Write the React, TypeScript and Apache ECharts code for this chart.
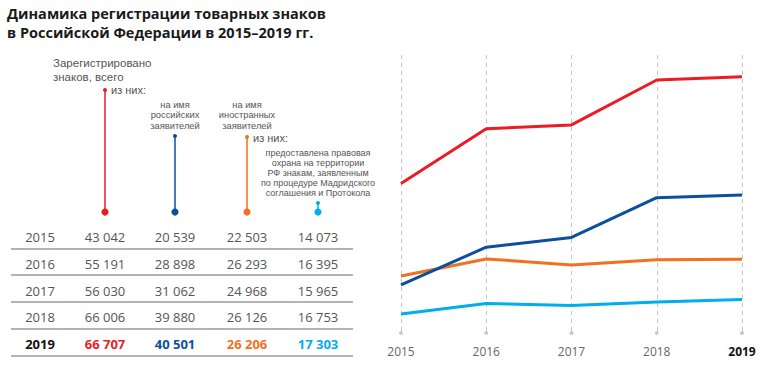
import React, { useEffect, useRef } from "react";
import * as echarts from "echarts";

const years = ["2015", "2016", "2017", "2018", "2019"];
const totalMarks = [43042, 55191, 56030, 66006, 66707];
const russianApplicants = [20539, 28898, 31062, 39880, 40501];
const foreignApplicants = [22503, 26293, 24968, 26126, 26206];
const madridMarks = [14073, 16395, 15965, 16753, 17303];

const totalCaption = ["Зарегистрировано", "знаков, всего"];
const russianCaption = ["на имя", "российских", "заявителей"];
const foreignCaption = ["на имя", "иностранных", "заявителей"];
const madridCaption = [
  "предоставлена правовая",
  "охрана на территории",
  "РФ знакам, заявленным",
  "по процедуре Мадридского",
  "соглашения и Протокола",
];

const RED = "#ec1c24";
const BLUE = "#0b4f9f";
const ORANGE = "#f37021";
const CYAN = "#00aeef";
const GREY_TEXT = "#555555";
const FONT = "'Open Sans', 'Noto Sans', sans-serif";
const CAPTION_FONT = "'Liberation Sans', Arial, sans-serif";

const Y_MIN = 9850;
const Y_MAX = 71550;

const fmt = (v: number) => {
  const s = String(v);
  return s.length > 3 ? s.slice(0, s.length - 3) + " " + s.slice(s.length - 3) : s;
};

function txt(x: number, y: number, text: string, opts: any = {}) {
  return {
    type: "text",
    x,
    y,
    silent: true,
    style: {
      text,
      fill: opts.fill || GREY_TEXT,
      fontSize: opts.fontSize || 11,
      fontFamily: opts.fontFamily || FONT,
      fontWeight: opts.fontWeight || "normal",
      align: opts.align || "left",
      verticalAlign: opts.verticalAlign || "middle",
      lineHeight: opts.lineHeight || 12,
    },
  };
}

function lines(x: number, y0: number, step: number, arr: string[], opts: any) {
  return arr.map((s, i) => txt(x, y0 + i * step, s, { fontFamily: CAPTION_FONT, ...opts }));
}

function circle(cx: number, cy: number, r: number, fill: string) {
  return { type: "circle", silent: true, shape: { cx, cy, r }, style: { fill } };
}

function vline(x: number, y1: number, y2: number, stroke: string) {
  return {
    type: "line",
    silent: true,
    shape: { x1: x, y1, x2: x, y2 },
    style: { stroke, lineWidth: 1.5 },
  };
}

export default function App() {
  const ref = useRef<HTMLDivElement>(null);

  useEffect(() => {
    if (!ref.current) return;
    const chart = echarts.init(ref.current, undefined, { renderer: "svg" });

    const colX = [40, 105, 175, 247, 318];
    const rowY = [237, 264, 291, 317, 344];
    const lineY = [249, 275, 302, 329, 356];
    const colColors = [RED, BLUE, ORANGE, CYAN];
    const cols = [totalMarks, russianApplicants, foreignApplicants, madridMarks];

    const graphics: any[] = [];
    // title
    graphics.push(
      txt(7, 4, "Динамика регистрации товарных знаков\nв Российской Федерации в 2015–2019 гг.", {
        fill: "#1a1a1a",
        fontSize: 14.5,
        fontWeight: "bold",
        verticalAlign: "top",
        lineHeight: 19,
      })
    );
    // header annotations
    graphics.push(...lines(53, 63, 13.5, totalCaption, { fontSize: 11.5 }));
    graphics.push(txt(111, 90, "из них:", { fontSize: 11, fontFamily: CAPTION_FONT }));
    graphics.push(...lines(175, 104.5, 10.6, russianCaption, { fontSize: 9.3, align: "center" }));
    graphics.push(...lines(247, 104.5, 10.6, foreignCaption, { fontSize: 9.3, align: "center" }));
    graphics.push(txt(253, 138, "из них:", { fontSize: 11, fontFamily: CAPTION_FONT }));
    graphics.push(...lines(318, 152.5, 10.2, madridCaption, { fontSize: 9, align: "center" }));
    // connector lines and dots
    const topY = [90, 136, 137, 203];
    for (let i = 0; i < 4; i++) {
      graphics.push(vline(colX[i + 1], topY[i], 212, colColors[i]));
      graphics.push(circle(colX[i + 1], topY[i], 2, colColors[i]));
      graphics.push(circle(colX[i + 1], 212, 3.6, colColors[i]));
    }
    // table
    for (let r = 0; r < years.length; r++) {
      const last = r === years.length - 1;
      graphics.push(
        txt(colX[0], rowY[r], years[r], {
          fontSize: 13,
          align: "center",
          fill: last ? "#111111" : GREY_TEXT,
          fontWeight: last ? "bold" : "normal",
        })
      );
      for (let c = 0; c < cols.length; c++) {
        graphics.push(
          txt(colX[c + 1], rowY[r], fmt(cols[c][r]), {
            fontSize: 13,
            align: "center",
            fill: last ? colColors[c] : GREY_TEXT,
            fontWeight: last ? "bold" : "normal",
          })
        );
      }
      graphics.push({
        type: "line",
        silent: true,
        shape: { x1: 11, y1: lineY[r], x2: 353, y2: lineY[r] },
        style: { stroke: "#9a9a9a", lineWidth: 1.3 },
      });
    }

    const lineSeries = (name: string, data: number[], color: string, z: number) => ({
      name,
      type: "line",
      data,
      showSymbol: false,
      symbol: "none",
      z,
      lineStyle: { color, width: 3 },
      itemStyle: { color },
    });

    chart.setOption({
      animation: false,
      backgroundColor: "#ffffff",
      grid: { left: 401, right: 29, top: 55, bottom: 49 },
      xAxis: {
        type: "category",
        data: years,
        boundaryGap: false,
        axisLine: { show: false },
        axisTick: { show: false },
        axisLabel: {
          margin: 12,
          fontSize: 12,
          color: "#666666",
          fontFamily: FONT,
          formatter: (v: string) => (v === years[years.length - 1] ? "{b|" + v + "}" : v),
          rich: {
            b: { fontWeight: "bold", color: "#111111", fontSize: 12, fontFamily: FONT },
          },
        },
        splitLine: {
          show: true,
          lineStyle: { color: "#c4c4c4", width: 1, type: [4, 4] },
        },
      },
      yAxis: {
        type: "value",
        show: false,
        min: Y_MIN,
        max: Y_MAX,
        splitLine: { show: false },
      },
      graphic: graphics,
      series: [
        lineSeries("madrid", madridMarks, CYAN, 2),
        lineSeries("foreign", foreignApplicants, ORANGE, 3),
        lineSeries("russian", russianApplicants, BLUE, 4),
        lineSeries("total", totalMarks, RED, 5),
        {
          type: "scatter",
          data: years.map((y) => [y, Y_MIN]),
          symbolSize: 4,
          clip: false,
          silent: true,
          itemStyle: { color: "#bdbdbd" },
          z: 1,
        },
      ],
    });

    return () => chart.dispose();
  }, []);

  return (
    <div
      ref={ref}
      style={{ position: "fixed", left: 0, top: 0, width: 771, height: 382 }}
    />
  );
}
